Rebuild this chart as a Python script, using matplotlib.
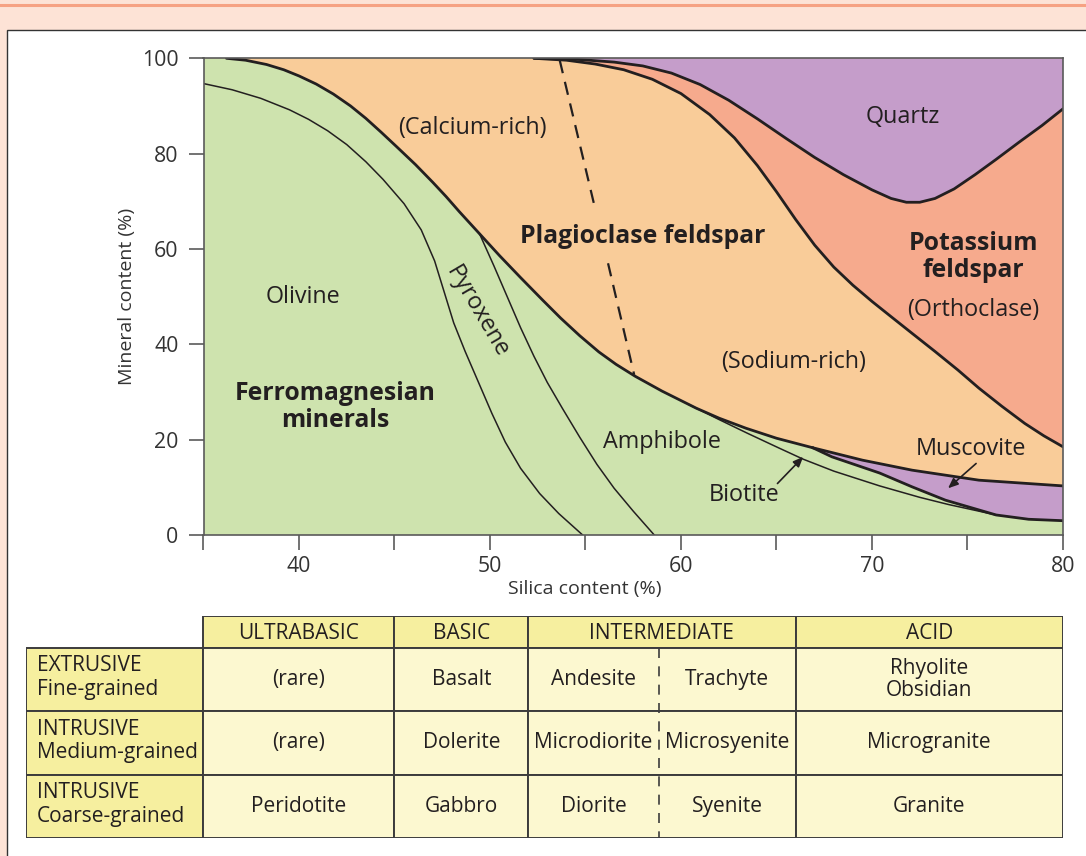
import numpy as np
import matplotlib
matplotlib.use('Agg')
import matplotlib.pyplot as plt
from matplotlib.patches import Rectangle
from matplotlib.lines import Line2D

plt.rcParams['font.family'] = ['Open Sans', 'DejaVu Sans']

# ---- mineral boundaries (silica %, mineral %) ----
# olivine / pyroxene (thin)
olivine_x = [35, 36.5, 38.0, 39.5, 40.5, 41.5, 42.5, 43.5, 44.4, 45.5, 46.4, 47.1, 47.6, 48.1, 48.7, 49.4,
             50.1, 50.8, 51.6, 52.6, 53.6, 54.85]
olivine_y = [94.7, 93.4, 91.6, 89.2, 87.2, 84.8, 81.9, 78.3, 74.6, 69.5, 64.0, 57.5, 51.0, 44.5, 38.5, 32.0,
             25.5, 19.5, 14.0, 8.7, 4.5, 0]
# pyroxene / amphibole (thin)
pyrox_x = [49.45, 50.2, 50.9, 51.6, 52.3, 53.0, 53.8, 54.7, 55.6, 56.5, 57.5, 58.6]
pyrox_y = [63.2, 56.5, 50.0, 43.5, 37.5, 32.0, 26.5, 20.5, 14.8, 9.8, 5.0, 0]
# ferromagnesian / plagioclase (thick)
ferro_x = [35, 36.2, 37.2, 38.3, 39.2, 40.0, 40.9, 41.8, 42.7, 43.5, 44.3, 45.1, 46.1, 47.0, 47.7, 48.4,
           49.45, 50.5, 51.6, 52.75, 53.7, 54.7, 55.7, 56.6, 57.6, 59.0, 60.8, 62.0, 63.4, 65.0, 66.9]
ferro_y = [100, 100, 99.6, 98.7, 97.6, 96.3, 94.6, 92.5, 90.0, 87.4, 84.5, 81.5, 77.7, 74.0, 71.0, 67.8,
           63.2, 58.6, 54.0, 49.3, 45.5, 41.8, 38.4, 35.8, 33.3, 30.2, 26.6, 24.5, 22.4, 20.3, 18.3]
# muscovite top (thick)
musc_top_x = [66.9, 69.5, 72.1, 75.6, 80]
musc_top_y = [18.3, 15.7, 13.6, 11.5, 10.3]
# muscovite bottom (thick)
musc_bot_x = [66.9, 67.9, 70.4, 72.1, 73.85, 76.5, 78.2, 80]
musc_bot_y = [18.3, 16.4, 13.0, 10.1, 7.3, 4.2, 3.3, 3.0]
# amphibole / biotite (thin)
biot_x = [60.4, 62.0, 63.5, 65.1, 66.4, 68.0, 70.4, 72.5, 74.0, 75.6, 76.5]
biot_y = [27.4, 24.2, 21.3, 18.3, 15.9, 13.4, 10.3, 7.9, 6.4, 5.0, 4.2]
# plagioclase / potassium feldspar (thick)
kfel_x = [52.3, 54.0, 55.5, 57.0, 58.5, 60.0, 61.5, 62.8, 64.0, 65.0, 66.0, 67.0, 68.0, 69.0, 70.0, 71.0,
          72.1, 73.3, 74.5, 75.6, 76.8, 78.0, 79.0, 80]
kfel_y = [100, 99.6, 98.8, 97.6, 95.6, 92.6, 88.2, 83.3, 77.5, 72.0, 66.2, 60.8, 56.2, 52.4, 49.0, 45.8,
          42.3, 38.5, 34.6, 30.8, 27.0, 23.4, 20.8, 18.5]
# potassium feldspar / quartz (thick)
qtz_x = [52.3, 54.5, 56.5, 58.0, 59.5, 61.0, 62.5, 64.0, 65.5, 67.0, 68.5, 70.0, 71.0, 71.8, 72.5, 73.3,
         74.3, 75.4, 76.5, 77.7, 78.9, 80]
qtz_y = [100, 99.8, 99.2, 98.4, 96.9, 94.5, 91.2, 87.3, 83.2, 79.2, 75.6, 72.4, 70.6, 69.8, 69.8, 70.6,
         72.6, 75.6, 78.8, 82.4, 85.9, 89.4]
# calcium-rich / sodium-rich divide (dashed, broken by the label)
dash_top_x = [53.65, 55.46]
dash_top_y = [99.6, 69.2]
dash_bot_x = [56.18, 57.55]
dash_bot_y = [57.0, 33.6]

# pointer arrows (tail -> tip)
biotite_arrow = [(65.05, 10.8), (66.4, 16.4)]
muscovite_arrow = [(75.45, 15.0), (73.98, 9.8)]

# ---- rock table ----
col_edges = [35, 45, 52, 66, 80]
col_names = ['ULTRABASIC', 'BASIC', 'INTERMEDIATE', 'ACID']
inter_split = 58.85
row_names = ['EXTRUSIVE\nFine-grained', 'INTRUSIVE\nMedium-grained', 'INTRUSIVE\nCoarse-grained']
rocks = [['(rare)', 'Basalt', 'Andesite', 'Trachyte', 'Rhyolite\nObsidian'],
         ['(rare)', 'Dolerite', 'Microdiorite', 'Microsyenite', 'Microgranite'],
         ['Peridotite', 'Gabbro', 'Diorite', 'Syenite', 'Granite']]

GREEN = '#cee3ae'
PLAG = '#f9cc99'
QTZ = '#c59dca'
KFEL = '#f6aa8d'
HEAD = '#f6ef9f'
CELL = '#fcf8d0'
INK = '#231f20'
GREY = '#5a5a5a'
LBL = 16.8
BOLD = 17.8

W, H = 1086, 856
fig = plt.figure(figsize=(W / 100, H / 100), dpi=100)
fig.patch.set_facecolor('#fde3d6')
fig.add_artist(Line2D([0, 1], [1 - 4.5 / H] * 2, color='#f6a283', lw=2.2, zorder=-1))
fig.add_artist(Rectangle((7 / W, -0.05), 1.1, 1.05 - 30 / H, transform=fig.transFigure,
                         fc='white', ec='#333333', lw=1.0, zorder=-1))

ax = fig.add_axes([203.5 / W, 1 - 535 / H, (1063 - 203.5) / W, (535 - 58.3) / H])
ax.set_xlim(35, 80)
ax.set_ylim(0, 100)
ax.set_facecolor(PLAG)

# regions
gx = [35] + ferro_x + musc_bot_x[1:] + [80, 35]
gy = [0] + ferro_y + musc_bot_y[1:] + [0, 0]
ax.fill(gx, gy, color=GREEN, lw=0)
ax.fill(musc_top_x + musc_bot_x[::-1], musc_top_y + musc_bot_y[::-1], color=QTZ, lw=0)
ax.fill(kfel_x + [80], kfel_y + [100], color=KFEL, lw=0)
ax.fill(qtz_x + [80], qtz_y + [100], color=QTZ, lw=0)

thick = dict(color=INK, lw=2.0, solid_capstyle='round', solid_joinstyle='round')
thin = dict(color=INK, lw=1.1, solid_joinstyle='round')
ax.plot(ferro_x[1:], ferro_y[1:], **thick)
ax.plot(musc_top_x, musc_top_y, **thick)
ax.plot(musc_bot_x, musc_bot_y, **thick)
ax.plot(kfel_x, kfel_y, **thick)
ax.plot(qtz_x, qtz_y, **thick)
ax.plot(olivine_x, olivine_y, **thin)
ax.plot(pyrox_x, pyrox_y, **thin)
ax.plot(biot_x, biot_y, **thin)
for dx, dy in ((dash_top_x, dash_top_y), (dash_bot_x, dash_bot_y)):
    ax.plot(dx, dy, color=INK, lw=1.6, dashes=(6, 4))

# labels
ax.text(49.1, 85.3, '(Calcium-rich)', fontsize=LBL, color=INK, ha='center', va='center')
ax.text(71.6, 87.6, 'Quartz', fontsize=LBL, color=INK, ha='center', va='center')
ax.text(58.0, 62.7, 'Plagioclase feldspar', fontsize=BOLD, weight='bold', color=INK, ha='center', va='center')
ax.text(75.3, 58.3, 'Potassium\nfeldspar', fontsize=BOLD, weight='bold', color=INK, ha='center', va='center',
        linespacing=1.12)
ax.text(75.3, 47.2, '(Orthoclase)', fontsize=LBL, color=INK, ha='center', va='center')
ax.text(40.2, 49.9, 'Olivine', fontsize=LBL, color=INK, ha='center', va='center')
ax.text(49.3, 46.8, 'Pyroxene', fontsize=LBL, color=INK, ha='center', va='center', rotation=-59.5)
ax.text(41.9, 26.9, 'Ferromagnesian\nminerals', fontsize=BOLD, weight='bold', color=INK, ha='center',
        va='center', linespacing=1.12)
ax.text(65.9, 36.3, '(Sodium-rich)', fontsize=LBL, color=INK, ha='center', va='center')
ax.text(59.0, 19.5, 'Amphibole', fontsize=LBL, color=INK, ha='center', va='center')
ax.text(63.3, 8.4, 'Biotite', fontsize=LBL, color=INK, ha='center', va='center')
ax.text(75.2, 18.0, 'Muscovite', fontsize=LBL, color=INK, ha='center', va='center')
for tail, tip in (biotite_arrow, muscovite_arrow):
    ax.annotate('', xy=tip, xytext=tail,
                arrowprops=dict(arrowstyle='-|>,head_length=0.6,head_width=0.25', color=INK, lw=1.2,
                                shrinkA=0, shrinkB=0))

ax.set_xticks(np.arange(35, 81, 5))
ax.set_xticklabels(['' if v % 10 else str(v) for v in range(35, 81, 5)])
ax.set_yticks(np.arange(0, 101, 20))
ax.tick_params(axis='both', length=11, width=1.2, color=GREY, labelsize=15.3, labelcolor='#333333')
ax.tick_params(axis='y', pad=7)
ax.tick_params(axis='x', pad=4)
for s in ax.spines.values():
    s.set_color(GREY)
    s.set_linewidth(1.2)
ax.set_xlabel('Silica content (%)', fontsize=14, color='#333333')
ax.xaxis.set_label_coords(0.444, -0.095)
ax.set_ylabel('Mineral content (%)', fontsize=14, color='#333333')
ax.yaxis.set_label_coords(-0.078, 0.5)

# table
tax = fig.add_axes([26 / W, 1 - 838 / H, (1063 - 26) / W, (838 - 616) / H])
left = 35 - (203.5 - 26) / ((1063 - 203.5) / 45)
tax.set_xlim(left, 80)
tax.set_ylim(3.5, 0)
tax.axis('off')
edge = dict(ec='#3c3c3c', lw=1.4)
for i, name in enumerate(col_names):
    x0, x1 = col_edges[i], col_edges[i + 1]
    tax.add_patch(Rectangle((x0, 0), x1 - x0, 0.5, fc=HEAD, **edge))
    tax.text((x0 + x1) / 2, 0.27, name, ha='center', va='center', fontsize=15, color=INK)
cell_x = [col_edges[0], col_edges[1], col_edges[2], inter_split, col_edges[3], col_edges[4]]
for r, name in enumerate(row_names):
    y0 = 0.5 + r
    tax.add_patch(Rectangle((left, y0), col_edges[0] - left, 1, fc=HEAD, **edge))
    tax.text(left + 0.55, y0 + 0.47, name, ha='left', va='center', fontsize=15, color=INK, linespacing=1.15)
    for i in range(4):
        x0, x1 = col_edges[i], col_edges[i + 1]
        tax.add_patch(Rectangle((x0, y0), x1 - x0, 1, fc=CELL, **edge))
    for c, rock in enumerate(rocks[r]):
        tax.text((cell_x[c] + cell_x[c + 1]) / 2, y0 + 0.5, rock, ha='center', va='center', fontsize=15,
                 color=INK, linespacing=1.05)
tax.plot([inter_split, inter_split], [0.5, 3.5], color='#3c3c3c', lw=1.2, dashes=(6, 5))

fig.savefig('out.png', dpi=100, facecolor=fig.get_facecolor())
